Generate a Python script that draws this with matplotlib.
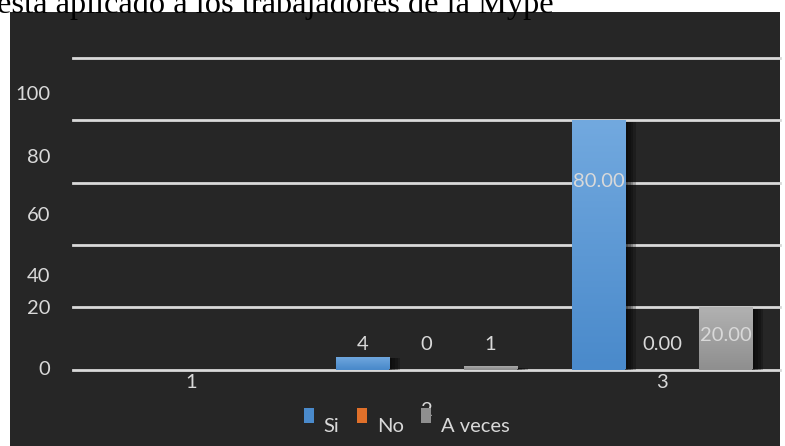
import matplotlib.pyplot as plt
import matplotlib.patches as patches
import matplotlib.patheffects as pe
import numpy as np

# Chart data
categories = ["1", "2", "3"]
series_names = ["Si", "No", "A veces"]
si = [0, 4, 80]
no = [0, 0, 0]
a_veces = [0, 1, 20]
value_labels = [
    ["", "", ""],
    ["4", "0", "1"],
    ["80.00", "0.00", "20.00"],
]
ytick_labels = ["0", "20", "40", "60", "80", "100"]

BG = "#262626"
TXT = "#d9d9d9"
colors = {"Si": ("#72a9df", "#4a8acb"), "No": ("#f08a45", "#e0702a"),
          "A veces": ("#b2b2b2", "#8f8f8f")}
FONT = "Lato"
FS = 14.5

W, H = 785, 446
fig = plt.figure(figsize=(W / 100, H / 100), dpi=100, facecolor="white")

# dark chart panel
fig.add_artist(patches.Rectangle((10 / W, 0), 770 / W, (H - 12) / H,
                                 transform=fig.transFigure, facecolor=BG,
                                 edgecolor="none", zorder=0))

ax = fig.add_axes([73 / W, (H - 369.5) / H, 707 / W, 311.5 / H])
ax.set_facecolor("none")
ax.set_xlim(-0.5, 2.5)
ax.set_ylim(0, 100)
for s in ax.spines.values():
    s.set_visible(False)
ax.set_xticks([])
ax.set_yticks([])

for v in range(0, 101, 20):
    ax.axhline(v, color="#d9d9d9", lw=2, zorder=1, clip_on=False)

# soft drop shadow built from a few faint offset copies
shadow = [pe.SimplePatchShadow(offset=(d, -1), shadow_rgbFace="black", alpha=0.22)
          for d in (2, 4, 6, 8)] + [pe.Normal()]

x = np.arange(len(categories))
bw = 0.225
off = 0.27
series = [si, no, a_veces]
for k, (name, vals) in enumerate(zip(series_names, series)):
    top_c, bot_c = colors[name]
    cmap = plt.matplotlib.colors.LinearSegmentedColormap.from_list(name, [bot_c, top_c])
    bars = ax.bar(x + (k - 1) * off, vals, bw, color=bot_c, zorder=2,
                  path_effects=shadow)
    for b in bars:
        h = b.get_height()
        if h <= 0:
            continue
        grad = np.linspace(0, 1, 100).reshape(-1, 1)
        im = ax.imshow(grad, cmap=cmap, origin="lower", aspect="auto", zorder=3,
                       extent=(b.get_x(), b.get_x() + b.get_width(), 0, h))
        im.set_clip_path(b)

# value labels
label_y = [[0, 0, 0], [7.9, 7.9, 7.9], [60.2, 7.9, 11]]
for i in range(len(categories)):
    for k in range(3):
        if value_labels[i][k]:
            ax.text(x[i] + (k - 1) * off, label_y[i][k], value_labels[i][k],
                    ha="center", va="center", color=TXT, fontsize=FS,
                    family=FONT, zorder=5)

# category labels
cat_y = [-4.3, -13.3, -4.3]
for i, c in enumerate(categories):
    ax.text(x[i], cat_y[i], c, ha="center", va="center", color=TXT,
            fontsize=FS, family=FONT, zorder=4, clip_on=False)

# y tick labels
ytick_y = [0, 19.7, 29.7, 49.3, 68.2, 88.4]
for lab, yy in zip(ytick_labels, ytick_y):
    ax.text(-23 / 707, yy, lab, transform=ax.get_yaxis_transform(),
            ha="right", va="center", color=TXT, fontsize=FS, family=FONT)

# legend
leg_items = [("Si", 304, 323), ("No", 357, 377), ("A veces", 421, 441)]
for name, mx, tx in leg_items:
    fig.add_artist(patches.Rectangle((mx / W, (H - 423) / H), 10 / W, 15 / H,
                                     transform=fig.transFigure,
                                     facecolor=colors[name][1], edgecolor="none",
                                     zorder=6))
    fig.text(tx / W, (H - 427) / H, name, ha="left", va="center", color=TXT,
             fontsize=FS, family=FONT, zorder=5)

# title, partially cut at the top
fig.text(-3 / W, (H - 13) / H, "está aplicado a los trabajadores de la Mype",
         ha="left", va="baseline", color="black", fontsize=23.3,
         family="Liberation Serif", zorder=10)

fig.savefig("out.png", dpi=100, facecolor="white")
